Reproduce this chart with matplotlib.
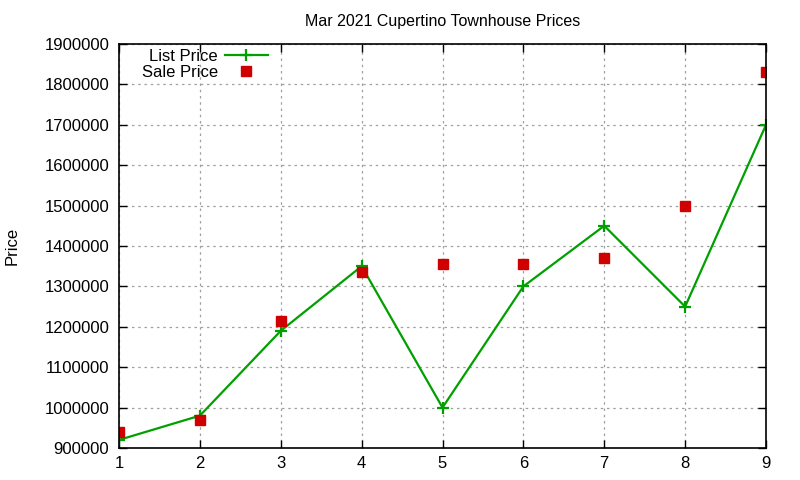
import matplotlib
matplotlib.use("Agg")
import matplotlib.pyplot as plt

plt.rcParams["font.family"] = ["Liberation Sans", "DejaVu Sans"]

months = [1, 2, 3, 4, 5, 6, 7, 8, 9]
list_price = [920000, 980000, 1190000, 1350000, 1000000, 1300000, 1450000, 1250000, 1700000]
sale_price = [940000, 970000, 1215000, 1335000, 1355000, 1355000, 1370000, 1500000, 1830000]
yticks = list(range(900000, 1900001, 100000))

fig = plt.figure(figsize=(8, 4.8), dpi=100)
ax = fig.add_axes([0.14875, 0.0667, 0.80875, 0.8416])

ax.plot(months, list_price, color="#00a000", linewidth=1.6, marker="+",
        markersize=9, markeredgewidth=1.6, label="List Price")
ax.plot(months, sale_price, linestyle="none", marker="s", color="#d00000",
        markersize=6.5, label="Sale Price")

ax.set_xlim(1, 9)
ax.set_ylim(900000, 1900000)
ax.set_xticks(months)
ax.set_yticks(yticks)
ax.set_yticklabels([str(v) for v in yticks])
ax.tick_params(direction="in", top=True, right=True, labelsize=12, length=6,
               width=1)
ax.tick_params(axis="x", pad=6)
ax.tick_params(axis="y", pad=7)
ax.grid(True, color="#a0a0a0", linestyle=(0, (2, 3)), linewidth=0.9)
for s in ax.spines.values():
    s.set_linewidth(1.2)

ax.set_title("Mar 2021 Cupertino Townhouse Prices", fontsize=11.5, pad=13)
fig.text(12 / 800, 1 - 246 / 480, "Price", rotation=90, fontsize=12,
         ha="center", va="center")

ax.legend(loc="upper right", bbox_to_anchor=(268 / 800, 1 - 49 / 480),
          bbox_transform=fig.transFigure, frameon=False,
          markerfirst=False, fontsize=12, handlelength=2.6, handletextpad=0.42,
          borderpad=0, borderaxespad=0, labelspacing=0.05)
leg = ax.get_legend()
for t in leg.get_texts():
    t.set_ha("right")

fig.savefig("out.png", dpi=100)
